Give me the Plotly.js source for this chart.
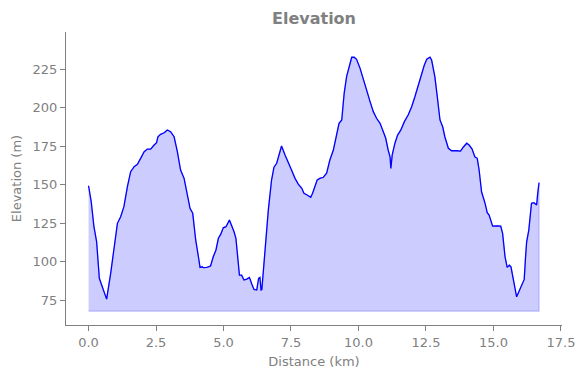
<!DOCTYPE html>
<html>
<head>
<meta charset="utf-8">
<script src="https://cdn.plot.ly/plotly-3.0.1.min.js"></script>
<style>html,body{margin:0;padding:0;background:#fff;}#chart{width:586px;height:378px;}</style>
</head>
<body>
<div id="chart"></div>
<script>
const distanceKm = [
  0.00,0.10,0.20,0.30,0.40,0.51,0.60,0.67,0.82,0.94,1.07,1.19,1.31,1.44,1.56,1.69,1.81,1.93,2.06,2.18,
  2.30,2.43,2.52,2.57,2.67,2.80,2.92,3.04,3.17,3.29,3.41,3.54,3.66,3.76,3.86,3.97,4.09,4.13,4.21,4.25,
  4.38,4.52,4.62,4.72,4.81,4.90,4.99,5.09,5.22,5.30,5.39,5.46,5.51,5.59,5.67,5.76,5.86,5.96,6.04,6.13,
  6.23,6.30,6.35,6.39,6.42,6.48,6.57,6.66,6.78,6.87,6.97,7.03,7.15,7.28,7.40,7.52,7.65,7.77,7.90,7.98,
  8.10,8.23,8.30,8.39,8.47,8.57,8.70,8.82,8.94,9.07,9.19,9.28,9.38,9.47,9.56,9.62,9.69,9.75,9.84,9.93,
  10.06,10.18,10.30,10.43,10.55,10.67,10.80,10.92,11.01,11.10,11.17,11.20,11.25,11.35,11.45,11.57,11.70,11.84,11.97,12.09,
  12.21,12.34,12.44,12.53,12.65,12.71,12.77,12.83,12.92,13.02,13.12,13.20,13.33,13.45,13.64,13.78,13.88,14.01,14.10,14.21,
  14.31,14.40,14.47,14.56,14.69,14.77,14.84,14.97,15.12,15.27,15.34,15.43,15.51,15.59,15.65,15.73,15.80,15.86,15.96,16.06,
  16.14,16.19,16.23,16.31,16.41,16.50,16.60,16.64,16.69
];
const elevationM = [
  149.4,139.0,122.8,113.0,89.3,83.8,80.6,75.8,92.5,109.8,125.0,129.3,135.8,148.8,158.5,161.8,163.3,167.2,171.5,173.2,
  173.2,175.8,177.3,181.2,182.8,183.8,185.6,184.5,181.2,171.5,159.6,154.2,142.3,134.7,131.5,114.2,101.2,96.4,96.8,96.2,
  96.4,97.3,103.3,107.7,115.3,118.0,122.1,122.8,127.1,123.9,119.5,115.3,107.7,91.4,91.4,88.2,88.8,89.9,86.0,82.1,
  81.7,89.3,89.9,81.7,82.0,94.7,118.5,133.6,153.1,161.4,164.0,168.2,175.2,169.4,165.0,159.6,154.2,150.5,147.7,144.5,
  143.4,141.9,144.5,149.9,153.1,154.2,154.9,157.5,166.1,172.6,182.3,189.9,192.1,209.4,220.2,224.5,228.9,232.8,232.8,231.5,
  225.6,219.2,211.6,204.0,197.5,193.2,189.9,184.5,180.2,172.6,168.2,160.7,169.4,177.0,182.3,185.6,191.0,195.3,200.7,207.2,
  214.8,221.3,227.8,231.5,232.8,231.0,224.5,220.2,207.2,192.1,187.7,181.2,173.7,172.1,172.1,171.9,174.4,177.0,175.8,173.2,
  168.2,167.2,159.6,145.5,138.0,131.9,130.4,123.2,123.4,123.2,118.5,103.3,96.4,97.9,96.8,88.2,82.8,77.3,81.2,84.9,
  88.6,103.3,113.0,120.6,138.0,138.4,136.9,144.5,151.4
];
const fillBase = 68;
const xTicks = [0, 2.5, 5, 7.5, 10, 12.5, 15, 17.5];
const yTicks = [75, 100, 125, 150, 175, 200, 225];

const polyX = distanceKm.concat([distanceKm[distanceKm.length - 1], distanceKm[0]]);
const polyY = elevationM.concat([fillBase, fillBase]);

const gray = '#808080';
const data = [
  {
    x: polyX, y: polyY, type: 'scatter', mode: 'lines', fill: 'toself',
    fillcolor: 'rgba(0,0,255,0.2)', line: {color: 'rgba(0,0,255,0.2)', width: 1.2},
    hoverinfo: 'skip', showlegend: false
  },
  {
    x: distanceKm, y: elevationM, type: 'scatter', mode: 'lines',
    line: {color: '#0000ff', width: 1.3}, showlegend: false
  }
];
const layout = {
  width: 586, height: 378,
  margin: {l: 66, r: 24, t: 32, b: 53},
  paper_bgcolor: '#ffffff', plot_bgcolor: '#ffffff',
  font: {family: 'DejaVu Sans, sans-serif', size: 13, color: gray},
  title: {
    text: '<b>Elevation</b>', font: {family: 'DejaVu Sans, sans-serif', size: 16, color: gray},
    x: 0.5, xref: 'paper', xanchor: 'center', y: 1 - 18 / 378, yref: 'container', yanchor: 'middle'
  },
  xaxis: {
    range: [-0.835, 17.54], tickvals: xTicks, ticktext: xTicks.map(v => v.toFixed(1)),
    showline: true, linecolor: gray, linewidth: 1, ticks: 'outside', ticklen: 5, tickcolor: gray,
    showgrid: false, zeroline: false,
    title: {text: 'Distance (km)', font: {size: 13, color: gray}, standoff: 8}
  },
  yaxis: {
    range: [59, 249.2], tickvals: yTicks,
    showline: true, linecolor: gray, linewidth: 1, ticks: 'outside', ticklen: 5, tickcolor: gray,
    showgrid: false, zeroline: false,
    title: {text: 'Elevation (m)', font: {size: 13, color: gray}, standoff: 8}
  }
};
Plotly.newPlot('chart', data, layout, {displayModeBar: false, staticPlot: true});
</script>
</body>
</html>
